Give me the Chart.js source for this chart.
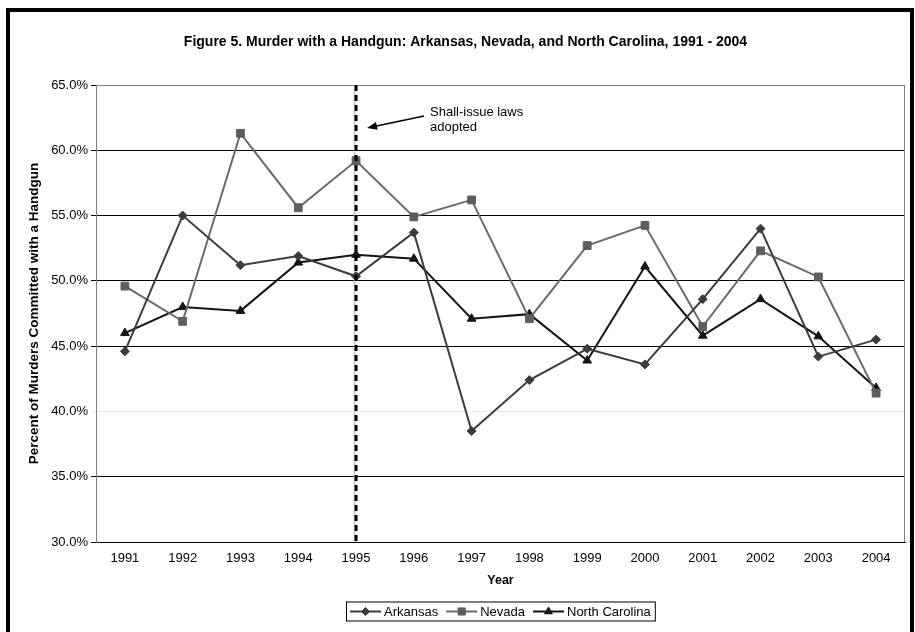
<!DOCTYPE html>
<html>
<head>
<meta charset="utf-8">
<script src="https://cdn.jsdelivr.net/npm/chart.js@4/dist/chart.umd.min.js"></script>
<style>
  html, body { margin: 0; padding: 0; background: #fff; }
  canvas { display: block; }
</style>
</head>
<body>
<canvas id="chart" width="915" height="632"></canvas>
<script>
const years = ['1991', '1992', '1993', '1994', '1995', '1996', '1997', '1998', '1999', '2000', '2001', '2002', '2003', '2004'];
const arkansas = [44.6, 55.0, 51.2, 51.9, 50.35, 53.7, 38.5, 42.4, 44.8, 43.6, 48.6, 54.0, 44.2, 45.5];
const nevada = [49.6, 46.9, 61.3, 55.6, 59.2, 54.9, 56.2, 47.1, 52.7, 54.25, 46.5, 52.3, 50.3, 41.4];
const northCarolina = [46.0, 48.0, 47.7, 51.4, 52.0, 51.7, 47.1, 47.45, 43.9, 51.1, 45.8, 48.6, 45.75, 41.8];
const lawYear = '1995';

const FONT = '"Liberation Sans", Arial, sans-serif';

// draws the marker + line sample used in the legend
function drawSample(ctx, x, y, ds) {
  ctx.save();
  ctx.strokeStyle = ds.borderColor;
  ctx.lineWidth = ds.borderWidth;
  ctx.beginPath();
  ctx.moveTo(x, y);
  ctx.lineTo(x + 31, y);
  ctx.stroke();
  ctx.fillStyle = ds.pointBackgroundColor;
  ctx.strokeStyle = ds.pointBorderColor;
  ctx.lineWidth = 1;
  Chart.helpers.drawPoint(ctx, { pointStyle: ds.pointStyle, radius: ds.pointRadius - 0.5, rotation: 0, borderWidth: 1 }, x + 15.5, y);
  ctx.fill();
  ctx.restore();
}

const extras = {
  id: 'extras',
  beforeDatasetsDraw(chart) {
    const { ctx, chartArea: a, scales: { x } } = chart;
    const lx = x.getPixelForValue(years.indexOf(lawYear));
    ctx.save();
    // plot frame top/right in grey
    ctx.strokeStyle = '#808080';
    ctx.lineWidth = 1;
    ctx.beginPath();
    ctx.moveTo(a.left, a.top + 0.5);
    ctx.lineTo(a.right - 0.5, a.top + 0.5);
    ctx.lineTo(a.right - 0.5, a.bottom);
    ctx.stroke();
    ctx.strokeStyle = '#c0c0c0';
    ctx.lineWidth = 1.5;
    ctx.beginPath();
    ctx.moveTo(lx - 1.5, a.top);
    ctx.lineTo(lx - 1.5, a.bottom);
    ctx.stroke();
    ctx.restore();
  },
  afterDatasetsDraw(chart) {
    const { ctx, chartArea: a, scales: { x } } = chart;
    const lx = x.getPixelForValue(years.indexOf(lawYear));
    ctx.save();
    ctx.strokeStyle = '#000';
    ctx.lineWidth = 3;
    ctx.setLineDash([6, 4]);
    ctx.beginPath();
    ctx.moveTo(lx, a.top);
    ctx.lineTo(lx, a.bottom);
    ctx.stroke();
    ctx.restore();
  },
  afterDraw(chart) {
    const { ctx, chartArea: a, scales: { x } } = chart;
    const lx = x.getPixelForValue(years.indexOf(lawYear));
    ctx.save();

    // annotation arrow and text
    const hx = lx + 11, hy = a.top + 43;
    const tx = lx + 68, ty = a.top + 31;
    const ang = Math.atan2(hy - ty, hx - tx);
    ctx.strokeStyle = '#000';
    ctx.fillStyle = '#000';
    ctx.lineWidth = 1.5;
    ctx.beginPath();
    ctx.moveTo(tx, ty);
    ctx.lineTo(hx - 6 * Math.cos(ang), hy - 6 * Math.sin(ang));
    ctx.stroke();
    ctx.beginPath();
    ctx.moveTo(hx, hy);
    ctx.lineTo(hx - 10 * Math.cos(ang) + 4 * Math.sin(ang), hy - 10 * Math.sin(ang) - 4 * Math.cos(ang));
    ctx.lineTo(hx - 10 * Math.cos(ang) - 4 * Math.sin(ang), hy - 10 * Math.sin(ang) + 4 * Math.cos(ang));
    ctx.closePath();
    ctx.fill();
    ctx.font = '13px ' + FONT;
    ctx.textBaseline = 'middle';
    ctx.textAlign = 'left';
    ctx.fillText('Shall-issue laws', lx + 74, a.top + 27);
    ctx.fillText('adopted', lx + 74, a.top + 42);

    // legend
    const items = chart.data.datasets;
    const cy = 611.5;
    const widths = items.map(d => 31 + 3 + ctx.measureText(d.label).width);
    const gap = 8;
    const total = widths.reduce((s, w) => s + w, 0) + gap * (items.length - 1) + 8;
    let lxp = Math.round((a.left + a.right) / 2 - total / 2);
    ctx.strokeStyle = '#000';
    ctx.lineWidth = 1;
    ctx.strokeRect(lxp + 0.5, cy - 9.5, total, 19);
    let cx = lxp + 4;
    items.forEach((d, i) => {
      drawSample(ctx, cx, cy, d);
      ctx.fillStyle = '#000';
      ctx.fillText(d.label, cx + 34, cy + 0.5);
      cx += widths[i] + gap;
    });

    // outer frame
    ctx.strokeStyle = '#000';
    ctx.lineWidth = 4;
    ctx.strokeRect(8, 10, 904, 700);
    ctx.restore();
  }
};

Chart.defaults.font.family = FONT;
Chart.defaults.font.size = 13;
Chart.defaults.color = '#000';

new Chart(document.getElementById('chart'), {
  type: 'line',
  data: {
    labels: years,
    datasets: [
      {
        label: 'Arkansas',
        data: arkansas,
        borderColor: '#3c3c3c',
        borderWidth: 2,
        pointStyle: 'rectRot',
        pointRadius: 4.5,
        pointBackgroundColor: '#3c3c3c',
        pointBorderColor: '#3c3c3c',
        pointBorderWidth: 1
      },
      {
        label: 'Nevada',
        data: nevada,
        borderColor: '#6a6a6a',
        borderWidth: 2,
        pointStyle: 'rect',
        pointRadius: 5.5,
        pointBackgroundColor: '#5e5e5e',
        pointBorderColor: '#5e5e5e',
        pointBorderWidth: 1
      },
      {
        label: 'North Carolina',
        data: northCarolina,
        borderColor: '#141414',
        borderWidth: 2,
        pointStyle: 'triangle',
        pointRadius: 5,
        pointBackgroundColor: '#141414',
        pointBorderColor: '#141414',
        pointBorderWidth: 1
      }
    ]
  },
  options: {
    responsive: false,
    animation: false,
    devicePixelRatio: 1,
    layout: { padding: { left: 26, right: 10, top: 0, bottom: 44 } },
    plugins: {
      legend: { display: false },
      tooltip: { enabled: false },
      title: {
        display: true,
        text: 'Figure 5. Murder with a Handgun: Arkansas, Nevada, and North Carolina, 1991 - 2004',
        font: { size: 14, weight: 'bold' },
        padding: { top: 34, bottom: 34.2 },
        color: '#000'
      }
    },
    scales: {
      x: {
        offset: true,
        grid: { display: false, drawTicks: false },
        border: { color: '#000', width: 1 },
        ticks: { padding: 9, maxRotation: 0, autoSkip: false },
        title: { display: true, text: 'Year', font: { size: 12.5, weight: 'bold' }, padding: { top: 0, bottom: 0 } },
        afterFit: s => { s.height = 46; }
      },
      y: {
        min: 30,
        max: 65,
        ticks: { stepSize: 5, padding: 3, callback: v => v.toFixed(1) + '%' },
        grid: {
          color: c => c.tick.value === 65 ? '#808080' : (c.tick.value === 40 ? '#ececec' : '#000'),
          tickColor: c => c.tick.value === 40 ? '#ececec' : '#000',
          tickLength: 5,
          lineWidth: 1
        },
        border: { color: '#808080', width: 1 },
        title: { display: true, text: 'Percent of Murders Committed with a Handgun', font: { size: 13.5, weight: 'bold' }, padding: { top: 0, bottom: 0 } },
        afterFit: s => { s.width = 70; }
      }
    }
  },
  plugins: [extras]
});
</script>
</body>
</html>
